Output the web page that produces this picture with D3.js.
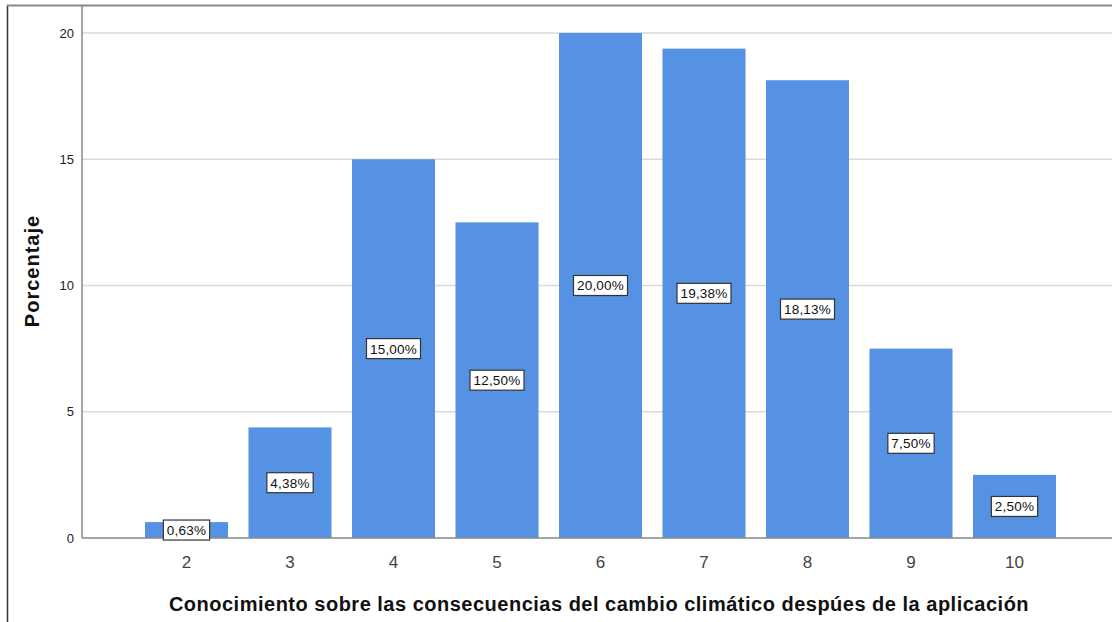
<!DOCTYPE html>
<html><head><meta charset="utf-8">
<script src="https://cdn.jsdelivr.net/npm/d3@7"></script>
<style>body{margin:0;background:#fff;}svg{display:block;font-family:Arial,"Liberation Sans",sans-serif;}</style>
</head><body>
<svg id="c" width="1112" height="622"></svg>
<script>
const categories = [2,3,4,5,6,7,8,9,10];
const values = [0.63,4.38,15.00,12.50,20.00,19.38,18.13,7.50,2.50];
const labels = ["0,63%","4,38%","15,00%","12,50%","20,00%","19,38%","18,13%","7,50%","2,50%"];
const yTicks = [0,5,10,15,20];
const xTitle = "Conocimiento sobre las consecuencias del cambio climático despúes de la aplicación";
const yTitle = "Porcentaje";

(function(){
const svg = d3.select("#c");
const left = 82, bottom = 538;
const y = d3.scaleLinear().domain([0, 20]).range([bottom, 33]);
const x = d3.scaleLinear().domain([1, 11]).range([83, 1118]);
const barW = 83;

// frame
svg.append("line").attr("x1",7.5).attr("x2",7.5).attr("y1",5).attr("y2",622).attr("stroke","#333").attr("stroke-width",1.5);
svg.append("line").attr("x1",7).attr("x2",1112).attr("y1",5.5).attr("y2",5.5).attr("stroke","#888").attr("stroke-width",2);

// gridlines
svg.append("g").selectAll("line").data(yTicks.filter(d=>d>0)).join("line")
  .attr("x1",left).attr("x2",1112).attr("y1",d=>y(d)).attr("y2",d=>y(d))
  .attr("stroke","#d9d9d9").attr("stroke-width",1.5);

// bars
svg.append("g").selectAll("rect").data(categories).join("rect")
  .attr("x",(d)=>x(d)-barW/2).attr("width",barW)
  .attr("y",(d,i)=>y(values[i])).attr("height",(d,i)=>bottom-y(values[i]))
  .attr("fill","#5592e3");

// axes
svg.append("line").attr("x1",left).attr("x2",left).attr("y1",5).attr("y2",bottom).attr("stroke","#888").attr("stroke-width",1.5);
svg.append("line").attr("x1",left).attr("x2",1112).attr("y1",bottom).attr("y2",bottom).attr("stroke","#888").attr("stroke-width",1.5);

// y tick labels
svg.append("g").selectAll("text").data(yTicks).join("text")
  .attr("x",74).attr("y",d=>y(d)).attr("dy","0.35em").attr("text-anchor","end")
  .attr("font-size",13).attr("fill","#222").text(d=>d);

// x tick labels
svg.append("g").selectAll("text").data(categories).join("text")
  .attr("x",d=>x(d)).attr("y",562).attr("dy","0.35em").attr("text-anchor","middle")
  .attr("font-size",17).attr("fill","#444").text(d=>d);

// value labels
const lg = svg.append("g").selectAll("g").data(categories).join("g")
  .attr("transform",(d,i)=>`translate(${x(d)},${(y(values[i])+bottom)/2})`);
lg.each(function(d,i){
  const g = d3.select(this);
  const t = g.append("text").attr("text-anchor","middle").attr("dy","0.36em")
    .attr("font-size",13.5).attr("letter-spacing","0.2px").attr("fill","#111").text(labels[i]);
  const w = t.node().getComputedTextLength();
  g.insert("rect","text").attr("x",-w/2-3.5).attr("y",-10).attr("width",w+7).attr("height",20)
    .attr("fill","#fff").attr("stroke","#333").attr("stroke-width",1.2);
});

// titles
svg.append("text").attr("x",599).attr("y",604).attr("dy","0.35em").attr("text-anchor","middle")
  .attr("font-size",20).attr("letter-spacing","0.5px").attr("font-weight","bold").attr("fill","#111").text(xTitle);
svg.append("text").attr("transform","translate(32,271) rotate(-90)").attr("dy","0.35em").attr("text-anchor","middle")
  .attr("font-size",20).attr("letter-spacing","1px").attr("font-weight","bold").attr("fill","#111").text(yTitle);
})();
</script>
</body></html>
